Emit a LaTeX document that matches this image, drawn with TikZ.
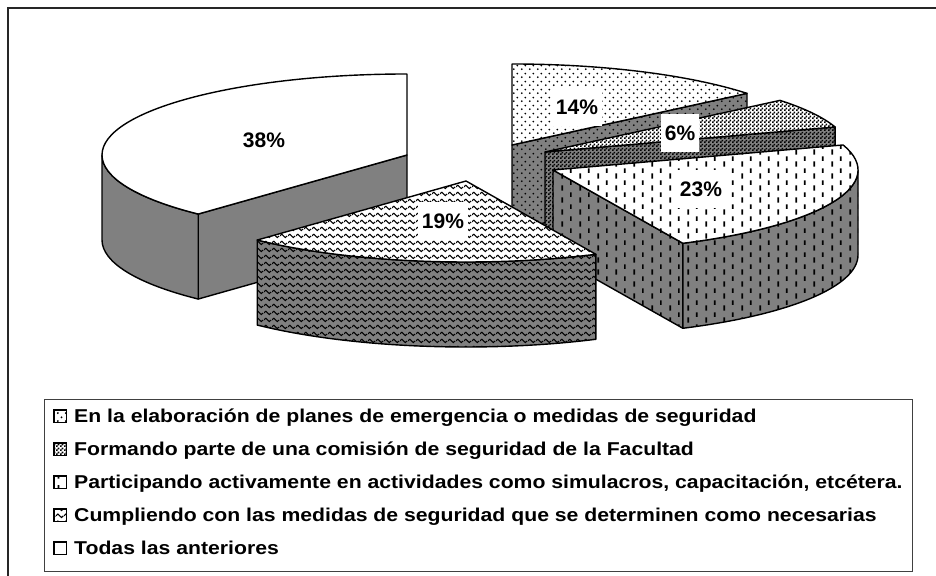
\documentclass[tikz,border=0pt]{standalone}
\usepackage{fontspec}
\setmainfont{Liberation Sans}
\newfontfamily\legendfont[FakeStretch=1.14]{Liberation Sans}
\usetikzlibrary{patterns, positioning, calc}

% fill patterns of the slices
\pgfdeclarepatternformonly{piedots}{\pgfpointorigin}{\pgfqpoint{8pt}{8pt}}{\pgfqpoint{8pt}{8pt}}{%
  \pgfpathcircle{\pgfqpoint{2pt}{2pt}}{1.1pt}%
  \pgfpathcircle{\pgfqpoint{6pt}{6pt}}{1.1pt}%
  \pgfusepath{fill}}
\pgfdeclarepatternformonly{piechecker}{\pgfpointorigin}{\pgfqpoint{4pt}{4pt}}{\pgfqpoint{4pt}{4pt}}{%
  \pgfpathrectangle{\pgfpointorigin}{\pgfqpoint{2pt}{2pt}}%
  \pgfpathrectangle{\pgfqpoint{2pt}{2pt}}{\pgfqpoint{2pt}{2pt}}%
  \pgfusepath{fill}}
\pgfdeclarepatternformonly{piedashes}{\pgfpointorigin}{\pgfqpoint{18pt}{12pt}}{\pgfqpoint{18pt}{12pt}}{%
  \pgfsetlinewidth{1.8pt}%
  \pgfpathmoveto{\pgfqpoint{4.5pt}{0.5pt}}\pgfpathlineto{\pgfqpoint{4.5pt}{6pt}}%
  \pgfpathmoveto{\pgfqpoint{13.5pt}{6.5pt}}\pgfpathlineto{\pgfqpoint{13.5pt}{11.5pt}}%
  \pgfusepath{stroke}}
\pgfdeclarepatternformonly{piewaves}{\pgfpointorigin}{\pgfqpoint{8pt}{7pt}}{\pgfqpoint{8pt}{7pt}}{%
  \pgfsetlinewidth{1.2pt}%
  \pgfpathmoveto{\pgfqpoint{0pt}{3.5pt}}%
  \pgfpathcurveto{\pgfqpoint{1.3pt}{6pt}}{\pgfqpoint{2.7pt}{6pt}}{\pgfqpoint{4pt}{3.5pt}}%
  \pgfpathcurveto{\pgfqpoint{5.3pt}{1pt}}{\pgfqpoint{6.7pt}{1pt}}{\pgfqpoint{8pt}{3.5pt}}%
  \pgfusepath{stroke}}

\begin{document}
\begin{tikzpicture}[x=1pt, y=1pt]
\tikzset{
x radius=305, y radius=81, % size of the pie ellipse
lid/.style={draw, line width=1.4pt, line join=round, preaction={fill=white}}, % top faces
wall/.style={draw, line width=1.4pt, line join=round, preaction={fill=black!50}}, % side faces
pct/.style={fill=white, inner xsep=4pt, minimum height=38pt, font=\bfseries\fontsize{21}{25}\selectfont}, % percent labels
legtext/.style={anchor=base west, inner sep=0pt, text height=13.3pt, text depth=0pt,
  font=\legendfont\bfseries\fontsize{18.6}{22}\selectfont}, % legend entries
legmark/.style={draw, line width=1.3pt, minimum size=12.5pt, inner sep=0pt, anchor=east, preaction={fill=white}}, % legend keys
}
\clip (0,0) rectangle (936,575);
\draw[line width=2pt, draw=black!85] (8,567) rectangle (960,-20);

% slice centres (exploded)
\coordinate (c14) at (512,430);
\coordinate (c6) at (545,423);
\coordinate (c23) at (553,405);
\coordinate (c19) at (466,394);
\coordinate (c38) at (407,420);

% 14%
\draw[wall, pattern=piedots] (c14) -- ++(39.6:305 and 81) -- ++(0,-85) -- ($(c14)+(0,-85)$) -- cycle;
\draw[lid, pattern=piedots] (c14) -- ++(39.6:305 and 81) arc[start angle=39.6, end angle=90] -- cycle;

% 6%
\draw[wall, pattern=piechecker] (c6) -- ++(18:305 and 81) -- ++(0,-85) -- ($(c6)+(0,-85)$) -- cycle;
\draw[lid, pattern=piechecker] (c6) -- ++(18:305 and 81) arc[start angle=18, end angle=39.6] -- cycle;

% 38%
\draw[wall] (c38) -- ++(226.8:305 and 81) -- ++(0,-85) -- ($(c38)+(0,-85)$) -- cycle;
\draw[wall] ($(c38)+(180:305 and 81)$) arc[start angle=180, end angle=226.8] -- ++(0,-85)
  arc[start angle=226.8, end angle=180] -- cycle;
\draw[lid] (c38) -- ++(90:305 and 81) arc[start angle=90, end angle=226.8] -- cycle;

% 23%
\draw[wall, pattern=piedashes] (c23) -- ++(-64.8:305 and 81) -- ++(0,-85) -- ($(c23)+(0,-85)$) -- cycle;
\draw[wall, pattern=piedashes] ($(c23)+(-64.8:305 and 81)$) arc[start angle=-64.8, end angle=0] -- ++(0,-85)
  arc[start angle=0, end angle=-64.8] -- cycle;
\draw[lid, pattern=piedashes] (c23) -- ++(-64.8:305 and 81) arc[start angle=-64.8, end angle=18] -- cycle;

% 19%
\draw[wall, pattern=piewaves] ($(c19)+(-133.2:305 and 81)$) arc[start angle=-133.2, end angle=-64.8] -- ++(0,-85)
  arc[start angle=-64.8, end angle=-133.2] -- cycle;
\draw[lid, pattern=piewaves] (c19) -- ++(-133.2:305 and 81) arc[start angle=-133.2, end angle=-64.8] -- cycle;

% percent labels
\node[pct] (p14) at (577,468) {14\%};
\node[pct] (p6) at (680,442) {6\%};
\node[pct] (p23) at (701,386) {23\%};
\node[pct] (p19) at (443,354) {19\%};
\node[pct] (p38) at (264,435) {38\%};

% legend
\draw[line width=0.9pt, draw=black!75] (44,176) rectangle (912,4);
\node[legtext] (l1) at (74,152) {En la elaboración de planes de emergencia o medidas de seguridad};
\node[legtext] (l2) at (74,119) {Formando parte de una comisión de seguridad de la Facultad};
\node[legtext] (l3) at (74,86) {Participando activamente en actividades como simulacros, capacitación, etcétera.};
\node[legtext] (l4) at (74,53) {Cumpliendo con las medidas de seguridad que se determinen como necesarias};
\node[legtext] (l5) at (74,20) {Todas las anteriores};
\node[legmark, pattern=piedots, left=7pt of l1.west] (k1) {};
\node[legmark, pattern=piechecker, left=7pt of l2.west] (k2) {};
\node[legmark, pattern=piedashes, left=7pt of l3.west] (k3) {};
\node[legmark, pattern=piewaves, left=7pt of l4.west] (k4) {};
\node[legmark, left=7pt of l5.west] (k5) {};
\end{tikzpicture}
\end{document}
